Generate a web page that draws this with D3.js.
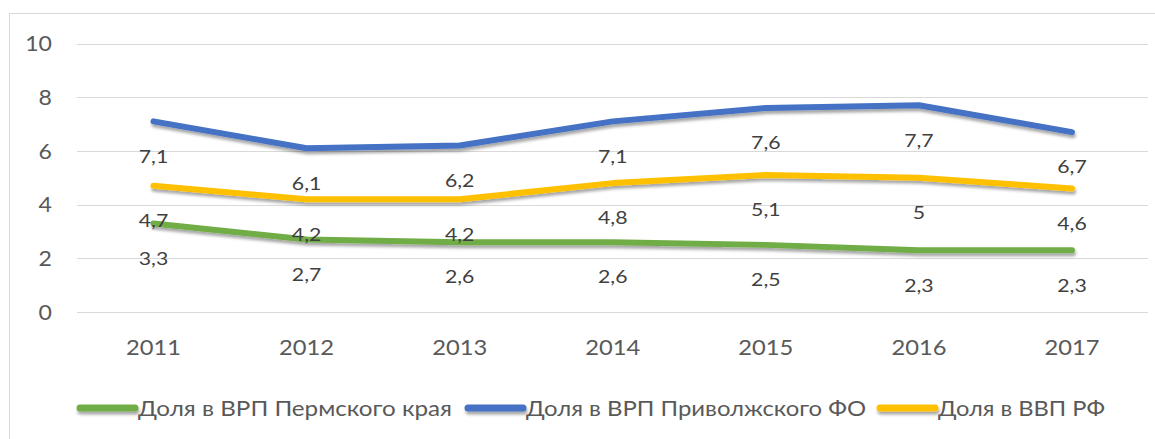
<!DOCTYPE html>
<html><head><meta charset="utf-8">
<script src="https://cdn.jsdelivr.net/npm/d3@7"></script>
<style>body{margin:0;background:#fff}</style>
</head><body>
<script>
const years = ["2011","2012","2013","2014","2015","2016","2017"];
const permValues = [3.3,2.7,2.6,2.6,2.5,2.3,2.3];
const volgaValues = [7.1,6.1,6.2,7.1,7.6,7.7,6.7];
const rfValues = [4.7,4.2,4.2,4.8,5.1,5,4.6];
const yTicks = [0,2,4,6,8,10];
const seriesNames = ["Доля в ВРП Пермского края","Доля в ВРП Приволжского ФО","Доля в ВВП РФ"];
const seriesColors = ["#70AD47","#4472C4","#FFC000"];
const seriesValues = [permValues, volgaValues, rfValues];

const W=1155,H=439;
const FONT="Lato,'Open Sans',sans-serif";
const svg=d3.select("body").append("svg").attr("width",W).attr("height",H);
svg.append("rect").attr("x",9.5).attr("y",13.5).attr("width",1150).attr("height",430).attr("fill","#fff").attr("stroke","#d9d9d9");

const defs=svg.append("defs");
const f=defs.append("filter").attr("id","sh").attr("filterUnits","userSpaceOnUse")
  .attr("x",0).attr("y",0).attr("width",W).attr("height",H);
f.append("feDropShadow").attr("dx",1).attr("dy",3).attr("stdDeviation",1.5).attr("flood-color","#000").attr("flood-opacity",0.35);

const x=d3.scalePoint().domain(years).range([153.5,1072]);
const y=d3.scaleLinear().domain([0,10]).range([312,43.5]);

function stretchText(parent, px, py, txt, size, anchor, sx, fill){
  const g=parent.append("g").attr("transform",`translate(${px},${py}) scale(${sx},1)`);
  g.append("text").attr("x",0).attr("y",0).attr("dy","0.35em").attr("text-anchor",anchor)
    .attr("font-family",FONT).attr("font-size",size).attr("fill",fill).text(txt);
  return g;
}

// gridlines
svg.append("g").selectAll("line").data(yTicks).join("line")
  .attr("x1",77).attr("x2",1148).attr("y1",d=>Math.round(y(d))+0.5).attr("y2",d=>Math.round(y(d))+0.5)
  .attr("stroke","#d9d9d9").attr("stroke-width",1);

// y axis labels
const yg=svg.append("g");
yTicks.forEach(t=>stretchText(yg,52,y(t),String(t),22,"end",1.05,"#595959"));

// x axis labels
const xg=svg.append("g");
years.forEach(yr=>stretchText(xg,x(yr),348,yr,21,"middle",1.13,"#595959"));

// lines
const line=d3.line().x((d,i)=>x(years[i])).y(d=>y(d));
[1,2,0].forEach(k=>{
  svg.append("path").datum(seriesValues[k]).attr("d",line).attr("fill","none")
    .attr("stroke",seriesColors[k]).attr("stroke-width",6).attr("stroke-linecap","round").attr("stroke-linejoin","round")
    .attr("filter","url(#sh)");
});

// data labels
const lg=svg.append("g");
seriesValues.forEach(vals=>{
  vals.forEach((v,i)=>stretchText(lg,x(years[i]),y(v)+35,String(v).replace(".",","),18,"middle",1.18,"#404040"));
});

// legend
const legX=[77,465,877];
const legW=[314,340,167];
seriesNames.forEach((n,i)=>{
  svg.append("line").attr("x1",legX[i]+3).attr("x2",legX[i]+58).attr("y1",408).attr("y2",408)
    .attr("stroke",seriesColors[i]).attr("stroke-width",7).attr("stroke-linecap","round").attr("filter","url(#sh)");
  svg.append("text").attr("x",legX[i]+61).attr("y",408).attr("dy","0.35em")
    .attr("font-family",FONT).attr("font-size",22).attr("fill","#595959")
    .attr("textLength",legW[i]).attr("lengthAdjust","spacingAndGlyphs").text(n);
});
</script>
</body></html>
